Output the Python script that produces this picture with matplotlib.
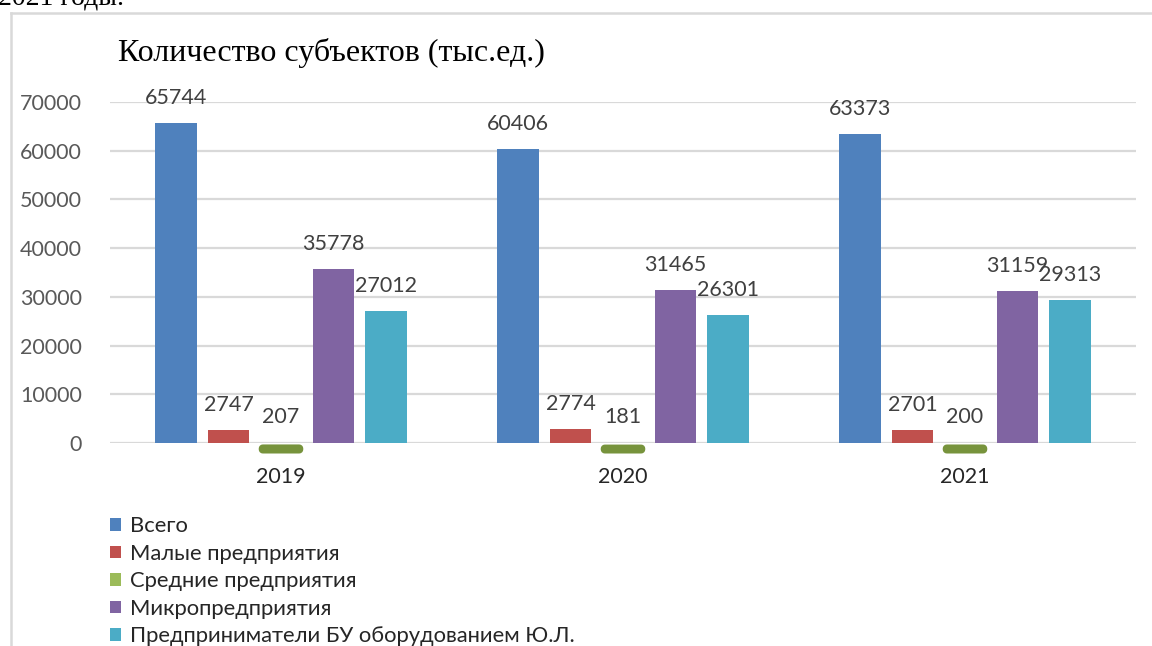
import matplotlib
matplotlib.use("Agg")
import matplotlib.pyplot as plt
from matplotlib.patches import Patch
from matplotlib.lines import Line2D
import numpy as np

years = ["2019", "2020", "2021"]
series_names = ["Всего", "Малые предприятия", "Средние предприятия",
                "Микропредприятия", "Предприниматели БУ оборудованием Ю.Л."]
vsego = [65744, 60406, 63373]
malye = [2747, 2774, 2701]
srednie = [207, 181, 200]
mikro = [35778, 31465, 31159]
predprinimateli = [27012, 26301, 29313]
yticks = [0, 10000, 20000, 30000, 40000, 50000, 60000, 70000]
title = "Количество субъектов (тыс.ед.)"
top_text = "2021 годы."

colors = ["#4F81BD", "#C0504D", "#77933C", "#8064A2", "#4BACC6"]
legend_colors = ["#4F81BD", "#C0504D", "#9BBB59", "#8064A2", "#4BACC6"]

W, H = 1152, 646
fig = plt.figure(figsize=(W / 100, H / 100), dpi=100)
fig.patch.set_facecolor("white")

sans = ["Lato", "DejaVu Sans"]
serif = ["Liberation Serif", "DejaVu Serif"]
FS = 15.5

ax = fig.add_axes([110 / W, 1 - 443 / H, 1026 / W, (443 - 102) / H])
ax.set_xlim(-0.5, 2.5)
ax.set_ylim(0, 70000)
ax.set_yticks(yticks)
ax.set_yticklabels([str(t) for t in yticks], fontfamily=sans, fontsize=FS, color="#595959")
ax.grid(axis="y", color="#D9D9D9", linewidth=1.6)
ax.set_axisbelow(True)
for s in ax.spines.values():
    s.set_visible(False)
ax.tick_params(axis="y", length=0, pad=20)
ax.tick_params(axis="x", length=0, pad=17)

x = np.arange(len(years))
ax.set_xticks(x)
ax.set_xticklabels(years, fontfamily=sans, fontsize=FS, color="#262626")

step = 52.5 / 342
bw = 41.5 / 342
all_series = [vsego, malye, srednie, mikro, predprinimateli]
for i, vals in enumerate(all_series):
    off = (i - 2) * step
    if i == 2:
        # thin series drawn as a rounded slab just under the baseline
        bars = ax.bar(x + off, vals, width=bw - 5 / 342, bottom=-1330,
                      color=colors[i], edgecolor=colors[i], linewidth=5.8,
                      joinstyle="round", clip_on=False, zorder=3)
        for b in bars:
            b.set_snap(False)
    else:
        ax.bar(x + off, vals, width=bw, color=colors[i], zorder=3)
    for xi, v in zip(x + off, vals):
        ax.annotate(str(v), (xi, max(v, 0)), xytext=(0, 18), textcoords="offset points",
                    ha="center", va="center", fontfamily=sans, fontsize=FS,
                    color="#404040", zorder=4)

# title
fig.text(118 / W, 1 - 53 / H, title, fontfamily=serif, fontsize=23, color="#000000",
         ha="left", va="center")

# partial text above the chart frame
fig.text(-2 / W, 1 - 5 / H, top_text, fontfamily=serif, fontsize=20, color="#000000",
         ha="left", va="baseline")

# chart frame (top and left)
fig.add_artist(Line2D([11 / W, 1.0], [1 - 13 / H, 1 - 13 / H], transform=fig.transFigure,
                      color="#D9D9D9", linewidth=1.8))
fig.add_artist(Line2D([11 / W, 11 / W], [1 - 13 / H, 0], transform=fig.transFigure,
                      color="#D9D9D9", linewidth=1.8))

handles = [Patch(facecolor=c, edgecolor="none") for c in legend_colors]
leg = fig.legend(handles, series_names, loc="upper left",
                 bbox_to_anchor=(110 / W, 1 - 516.5 / H), frameon=False,
                 prop={"family": sans, "size": 15.8}, handlelength=0.5, handleheight=0.5,
                 handletextpad=0.4, labelspacing=0.34, borderpad=0, borderaxespad=0)
for t in leg.get_texts():
    t.set_color("#262626")

fig.savefig("out.png", dpi=100)
